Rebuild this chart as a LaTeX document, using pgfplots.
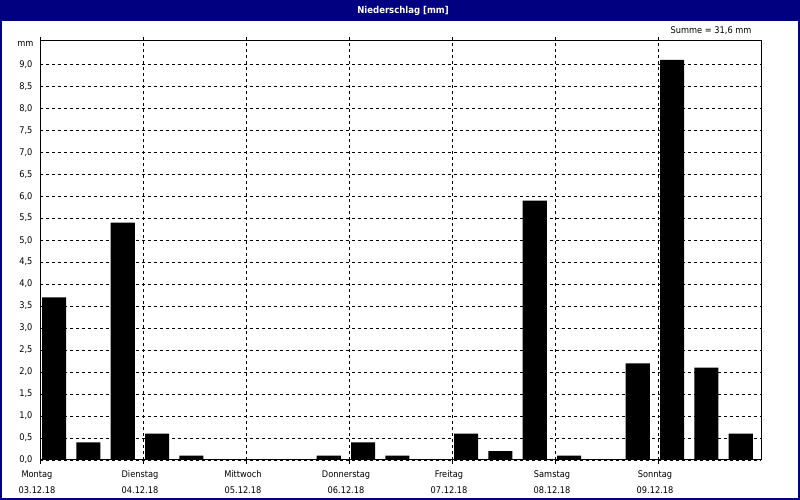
\documentclass[border=0pt]{standalone}
\usepackage{fontspec}
\setmainfont{DejaVu Sans Condensed}
\usepackage{pgfplots}
\pgfplotsset{compat=1.18}
\definecolor{titlenavy}{RGB}{0,0,128}
\begin{document}
\begin{tikzpicture}[x=1bp,y=1bp]
\useasboundingbox (0,0) rectangle (800,500);
\fill[white] (0,0) rectangle (800,500);
\fill[titlenavy] (0,479) rectangle (800,500);
\draw[titlenavy, line width=2bp] (1,1) rectangle (799,499);
\node[white, font=\bfseries\fontsize{9.5}{10}\selectfont] at (403,489.5) {Niederschlag [mm]};
\node[anchor=east, font=\fontsize{9.2}{10}\selectfont] at (755,469) {Summe = 31,6 mm};
\begin{axis}[
  at={(40bp,40bp)}, anchor=south west,
  scale only axis, width=721bp, height=419bp,
  xmin=0, xmax=21, ymin=0, ymax=9.53,
  clip=false,
  axis line style={line width=1bp, black},
  xtick={0,3,6,9,12,15,18},
  xticklabels={{Montag\\03.12.18},{Dienstag\\04.12.18},{Mittwoch\\05.12.18},{Donnerstag\\06.12.18},{Freitag\\07.12.18},{Samstag\\08.12.18},{Sonntag\\09.12.18}},
  x tick label style={align=center, font=\fontsize{9.2}{16}\selectfont, xshift=-3bp, yshift=-3bp},
  ytick={0,0.5,1,1.5,2,2.5,3,3.5,4,4.5,5,5.5,6,6.5,7,7.5,8,8.5,9},
  yticklabel style={font=\fontsize{9.2}{10}\selectfont, /pgf/number format/.cd, fixed, fixed zerofill, precision=1, use comma},
  /pgf/number format/assume math mode=true,
  grid=major,
  major grid style={black, dash pattern=on 3bp off 3bp, line width=0.8bp},
  tick align=outside,
  major tick length=4bp,
  xtick style={black, line width=0.8bp},
  ytick style={draw=none},
]
\addplot[ybar, bar width=0.7, bar shift=0pt, fill=black, draw=none] coordinates {
(0.41,3.7) (1.41,0.4) (2.41,5.4) (3.41,0.6) (4.41,0.1) (5.41,0) (6.41,0)
(7.41,0) (8.41,0.1) (9.41,0.4) (10.41,0.1) (11.41,0) (12.41,0.6) (13.41,0.2)
(14.41,5.9) (15.41,0.1) (16.41,0) (17.41,2.2) (18.41,9.1) (19.41,2.1) (20.41,0.6)
};
\node[anchor=east, font=\fontsize{9.2}{10}\selectfont, xshift=-3bp, yshift=-3bp] at (rel axis cs:0,1) {mm};
\end{axis}
\end{tikzpicture}
\end{document}
